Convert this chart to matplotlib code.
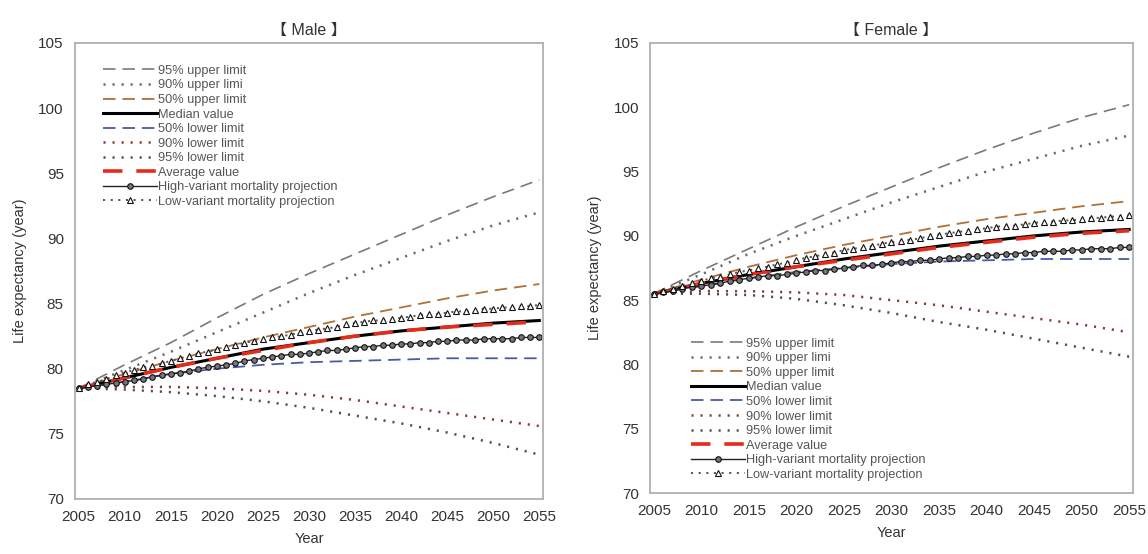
import numpy as np
import matplotlib
matplotlib.use('Agg')
import matplotlib.pyplot as plt

plt.rcParams['font.family'] = ['Liberation Sans', 'Noto Sans CJK JP', 'DejaVu Sans']
plt.rcParams['lines.scale_dashes'] = False

years5 = np.arange(2005, 2056, 5)
years1 = np.arange(2005, 2056, 1)

# Male, values every 5 years
m_u95 = [78.5, 80.3, 82.0, 83.9, 85.7, 87.3, 88.8, 90.3, 91.8, 93.2, 94.5]
m_u90 = [78.5, 79.9, 81.3, 82.8, 84.3, 85.8, 87.2, 88.5, 89.8, 91.0, 92.0]
m_u50 = [78.5, 79.6, 80.6, 81.5, 82.4, 83.2, 84.0, 84.7, 85.4, 86.0, 86.5]
m_med = [78.5, 79.3, 80.1, 80.8, 81.5, 82.0, 82.5, 82.9, 83.2, 83.5, 83.7]
m_l50 = [78.5, 79.0, 79.6, 80.0, 80.3, 80.5, 80.6, 80.7, 80.8, 80.8, 80.8]
m_l90 = [78.5, 78.6, 78.6, 78.5, 78.3, 78.0, 77.6, 77.1, 76.6, 76.1, 75.6]
m_l95 = [78.5, 78.4, 78.2, 77.9, 77.5, 77.0, 76.4, 75.8, 75.1, 74.3, 73.4]
m_avg = [78.5, 79.3, 80.1, 80.8, 81.4, 82.0, 82.5, 82.9, 83.2, 83.4, 83.6]
# Male, yearly projections
m_high = [78.5, 78.6, 78.7, 78.8, 78.9, 79.0,
          79.1, 79.2, 79.4, 79.5, 79.6,
          79.7, 79.8, 80.0, 80.1, 80.2,
          80.3, 80.4, 80.6, 80.7, 80.8,
          80.9, 81.0, 81.1, 81.1, 81.2,
          81.3, 81.4, 81.4, 81.5, 81.6,
          81.7, 81.7, 81.8, 81.8, 81.9,
          81.9, 82.0, 82.0, 82.1, 82.1,
          82.2, 82.2, 82.2, 82.3, 82.3,
          82.3, 82.3, 82.4, 82.4, 82.4]
m_low = [78.5, 78.8, 79.0, 79.2, 79.5, 79.7,
         79.9, 80.1, 80.2, 80.4, 80.6,
         80.8, 81.0, 81.2, 81.3, 81.5,
         81.7, 81.8, 82.0, 82.1, 82.3,
         82.4, 82.5, 82.6, 82.8, 82.9,
         83.0, 83.1, 83.2, 83.4, 83.5,
         83.6, 83.7, 83.7, 83.8, 83.9,
         84.0, 84.1, 84.2, 84.2, 84.3,
         84.4, 84.4, 84.5, 84.6, 84.6,
         84.7, 84.7, 84.8, 84.8, 84.9]

# Female, values every 5 years
f_u95 = [85.5, 87.3, 89.0, 90.7, 92.3, 93.8, 95.3, 96.7, 98.0, 99.2, 100.2]
f_u90 = [85.5, 87.0, 88.6, 90.0, 91.3, 92.6, 93.8, 95.0, 96.0, 97.0, 97.8]
f_u50 = [85.5, 86.6, 87.6, 88.5, 89.3, 90.0, 90.7, 91.3, 91.8, 92.3, 92.7]
f_med = [85.5, 86.3, 87.0, 87.6, 88.2, 88.7, 89.2, 89.6, 90.0, 90.3, 90.5]
f_l50 = [85.5, 86.1, 86.7, 87.2, 87.5, 87.8, 88.0, 88.1, 88.2, 88.2, 88.2]
f_l90 = [85.5, 85.7, 85.7, 85.6, 85.4, 85.0, 84.6, 84.1, 83.6, 83.1, 82.5]
f_l95 = [85.5, 85.5, 85.4, 85.1, 84.6, 84.0, 83.3, 82.7, 82.0, 81.3, 80.6]
f_avg = [85.5, 86.3, 87.0, 87.6, 88.1, 88.6, 89.1, 89.5, 89.9, 90.2, 90.4]
# Female, yearly projections
f_high = [85.5, 85.6, 85.7, 85.9, 86.0, 86.1,
          86.2, 86.3, 86.5, 86.6, 86.7,
          86.8, 86.9, 86.9, 87.0, 87.1,
          87.2, 87.3, 87.3, 87.4, 87.5,
          87.6, 87.7, 87.7, 87.8, 87.9,
          88.0, 88.0, 88.1, 88.1, 88.2,
          88.3, 88.3, 88.4, 88.4, 88.5,
          88.5, 88.6, 88.6, 88.7, 88.7,
          88.8, 88.8, 88.8, 88.9, 88.9,
          89.0, 89.0, 89.0, 89.1, 89.1]
f_low = [85.5, 85.7, 85.9, 86.1, 86.3, 86.5,
         86.7, 86.8, 87.0, 87.2, 87.3,
         87.5, 87.6, 87.8, 87.9, 88.1,
         88.3, 88.4, 88.6, 88.7, 88.9,
         89.0, 89.1, 89.2, 89.4, 89.5,
         89.6, 89.7, 89.8, 90.0, 90.1,
         90.2, 90.3, 90.4, 90.5, 90.6,
         90.7, 90.8, 90.8, 90.9, 91.0,
         91.1, 91.1, 91.2, 91.2, 91.3,
         91.4, 91.4, 91.5, 91.5, 91.6]

labels = ['95% upper limit', '90% upper limi', '50% upper limit', 'Median value',
          '50% lower limit', '90% lower limit', '95% lower limit', 'Average value',
          'High-variant mortality projection', 'Low-variant mortality projection']


def draw(ax, u95, u90, u50, med, l50, l90, l95, avg, high, low):
    ax.plot(years5, u95, color='#7a7a7a', lw=1.2, ls=(0, (9, 5)), label=labels[0])
    ax.plot(years5, u90, color='#6a6a6a', lw=1.8, ls=(0, (1.5, 5)), label=labels[1])
    ax.plot(years5, u50, color='#b0703a', lw=1.3, ls=(0, (9, 5)), label=labels[2])
    ax.plot(years5, med, color='black', lw=2.2, label=labels[3])
    ax.plot(years5, l50, color='#4a5aa8', lw=1.3, ls=(0, (9, 5)), label=labels[4])
    ax.plot(years5, l90, color='#8a3a30', lw=1.8, ls=(0, (1.5, 5)), label=labels[5])
    ax.plot(years5, l95, color='#505050', lw=1.8, ls=(0, (1.5, 5)), label=labels[6])
    ax.plot(years5, avg, color='#e52b1a', lw=2.6, ls=(0, (14, 10)), label=labels[7])
    ax.plot(years1, high, color='#222222', lw=1.0, marker='o', ms=4.0,
            mfc='#777777', mec='#111111', mew=0.8, label=labels[8])
    ax.plot(years1, low, color='#555555', lw=1.4, ls=(0, (1.5, 4)), marker='^', ms=4.0,
            mfc='white', mec='#111111', mew=0.8, label=labels[9])
    ax.set_xlim(2004.6, 2055.4)
    ax.set_ylim(70, 105)
    ax.set_xticks(years5)
    ax.set_yticks(np.arange(70, 106, 5))
    ax.tick_params(length=0, labelsize=11, labelcolor='#333333', pad=8)
    for s in ax.spines.values():
        s.set_color('#b0b0b0')
        s.set_linewidth(1.3)
    ax.set_xlabel('Year', fontsize=10.5, color='#333333', labelpad=6)
    ax.set_ylabel('Life expectancy (year)', fontsize=10.5, color='#333333', labelpad=8)


fig = plt.figure(figsize=(11.48, 5.54), dpi=100)
ax1 = fig.add_axes([0.0653, 0.0993, 0.4077, 0.8231])
ax2 = fig.add_axes([0.5662, 0.1101, 0.4207, 0.8123])

draw(ax1, m_u95, m_u90, m_u50, m_med, m_l50, m_l90, m_l95, m_avg, m_high, m_low)
draw(ax2, f_u95, f_u90, f_u50, f_med, f_l50, f_l90, f_l95, f_avg, f_high, f_low)

ax1.set_title('【 Male 】', fontsize=11.5, color='#333333', pad=6)
ax2.set_title('【 Female 】', fontsize=11.5, color='#333333', pad=6)

leg_kw = dict(frameon=False, fontsize=9.2, handlelength=4.2, handletextpad=0.1,
              labelspacing=0.2, borderpad=0, borderaxespad=0, labelcolor='#555555')
ax1.legend(loc='upper left', bbox_to_anchor=(0.06, 0.952), **leg_kw)
ax2.legend(loc='upper left', bbox_to_anchor=(0.085, 0.345), **leg_kw)

fig.savefig('out.png', dpi=100)
